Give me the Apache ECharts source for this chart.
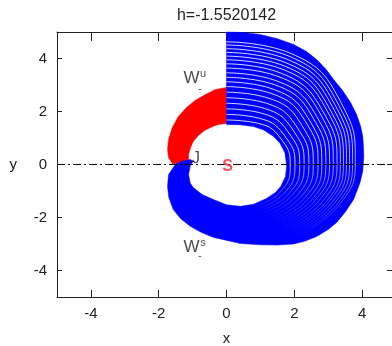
<!DOCTYPE html>
<html>
<head>
<meta charset="utf-8">
<style>
html,body{margin:0;padding:0;background:#fff;}
#chart{width:392px;height:346px;}
</style>
<script src="https://cdn.jsdelivr.net/npm/echarts@6/dist/echarts.min.js"></script>
</head>
<body>
<div id="chart"></div>
<script>
// ---- data ----
const titleText = 'h=-1.5520142';
const xTicks = [-4, -2, 0, 2, 4];
const yTicks = [-4, -2, 0, 2, 4];

// red band W^u_- : outer edge then inner edge
const redOuter = [[0,2.91],[-0.33,2.83],[-0.62,2.64],[-0.92,2.42],[-1.18,2.15],[-1.42,1.81],[-1.6,1.40],[-1.71,0.94],[-1.74,0.57],[-1.71,0.26],[-1.6,0.04],[-1.3,0.0]];
const redInner = [[-1.12,0.11],[-1.12,0.38],[-1.06,0.64],[-0.98,0.87],[-0.83,1.09],[-0.65,1.28],[-0.41,1.43],[-0.24,1.51],[0,1.55]];

// blue band W^s_- : outer edge clockwise, then inner edge back to the top
const blueOuter = [[0,5.0],[0.5,4.98],[0.98,4.91],[1.5,4.75],[1.98,4.53],[2.35,4.27],[2.66,3.96],[2.93,3.6],[3.16,3.21],[3.43,2.78],[3.66,2.34],[3.84,1.88],[3.96,1.43],[4.02,1.05],[4.04,0.68],[4.05,0.3],[4.02,-0.25],[3.94,-0.68],[3.75,-1.32],[3.5,-1.8],[3.25,-2.19],[3.0,-2.45],[2.66,-2.72],[2.3,-2.9],[1.98,-3.0],[1.5,-3.04],[1.0,-3.03],[0.41,-2.98],[-0.38,-2.75],[-0.75,-2.56],[-1.06,-2.34],[-1.35,-2.05],[-1.57,-1.70],[-1.7,-1.25],[-1.74,-0.83],[-1.71,-0.38],[-1.51,0],[-1.36,0.11],[-1.06,0.19]];
const blueInner = [[-0.98,0.11],[-1.06,0.0],[-1.12,-0.38],[-1.07,-0.7],[-0.98,-0.87],[-0.72,-1.13],[-0.37,-1.33],[0,-1.52],[0.41,-1.58],[0.8,-1.5],[1.18,-1.28],[1.45,-1.05],[1.6,-0.83],[1.74,-0.45],[1.77,-0.11],[1.75,0.2],[1.72,0.45],[1.58,0.8],[1.39,1.06],[1.1,1.3],[0.8,1.43],[0.4,1.5],[0,1.51]];

// visible gaps between the individual trajectories of the blue band
const blueGaps = [
  [[0,1.68],[0.91,1.56],[1.66,0.88],[1.88,-0.09],[1.56,-1.07],[0.83,-1.57]],
  [[0,1.89],[0.98,1.74],[1.78,0.97],[2.02,-0.08],[1.69,-1.10],[0.92,-1.65]],
  [[0,2.10],[1.05,1.93],[1.91,1.06],[2.16,-0.07],[1.82,-1.13],[1.01,-1.73]],
  [[0,2.31],[1.11,2.12],[2.04,1.15],[2.29,-0.05],[1.94,-1.15],[1.11,-1.81]],
  [[0,2.52],[1.18,2.31],[2.16,1.25],[2.43,-0.04],[2.07,-1.18],[1.20,-1.89]],
  [[0,2.73],[1.25,2.50],[2.29,1.34],[2.56,-0.03],[2.20,-1.21],[1.29,-1.97]],
  [[0,2.94],[1.32,2.68],[2.42,1.43],[2.70,-0.02],[2.33,-1.23],[1.39,-2.05]],
  [[0,3.12],[1.38,2.84],[2.52,1.51],[2.81,-0.01],[2.44,-1.26],[1.46,-2.12]],
  [[0,3.29],[1.44,3.00],[2.63,1.59],[2.93,0.0],[2.55,-1.28],[1.54,-2.19]],
  [[0,3.46],[1.49,3.15],[2.73,1.66],[3.04,0.01],[2.65,-1.30],[1.62,-2.26]],
  [[0,3.64],[1.55,3.31],[2.84,1.74],[3.15,0.02],[2.76,-1.32],[1.70,-2.32]],
  [[0,3.80],[1.60,3.45],[2.93,1.81],[3.26,0.03],[2.86,-1.35],[1.77,-2.38]],
  [[0,3.95],[1.66,3.59],[3.03,1.88],[3.36,0.04],[2.96,-1.37],[1.84,-2.45]],
  [[0,4.09],[1.70,3.72],[3.11,1.94],[3.45,0.05],[3.04,-1.38],[1.90,-2.50]],
  [[0,4.23],[1.75,3.84],[3.20,2.00],[3.54,0.06],[3.13,-1.40],[1.96,-2.55]],
  [[0,4.37],[1.79,3.97],[3.28,2.06],[3.63,0.06],[3.21,-1.42],[2.02,-2.61]],
  [[0,4.51],[1.84,4.09],[3.36,2.12],[3.72,0.07],[3.30,-1.44],[2.08,-2.66]],
  [[0,4.63],[1.88,4.20],[3.44,2.18],[3.80,0.08],[3.37,-1.45],[2.14,-2.71]]
];

const symmetryLine = [[-5,0],[5,0]];

// annotation texts and their anchor points (data coordinates)
const annotationText = ['W','u','-','W','s','-','S','J'];
const annotationAt = [[-1.03,3.26],[-0.69,3.40],[-0.79,2.86],[-1.03,-3.11],[-0.69,-2.96],[-0.79,-3.46],[0.03,-0.09],[-0.9,0.23]];

// ---- chart ----
const FONT = '"Liberation Sans", Arial, Helvetica, sans-serif';
const TXT = '#222';

function polygonSeries(points, color, z) {
  return {
    type: 'custom',
    coordinateSystem: 'cartesian2d',
    data: points,
    encode: {x: 0, y: 1},
    silent: true,
    z: z,
    renderItem: function (params, api) {
      if (params.dataIndex !== 0) return null;
      return {
        type: 'polygon',
        shape: {points: points.map(function (p) { return api.coord(p); })},
        style: {fill: color, stroke: color, lineWidth: 0.5}
      };
    }
  };
}

const gapColor = new echarts.graphic.LinearGradient(0, 0, 0, 1, [
  {offset: 0, color: 'rgba(255,255,255,0.95)'},
  {offset: 0.5, color: 'rgba(255,255,255,0.85)'},
  {offset: 0.78, color: 'rgba(255,255,255,0.4)'},
  {offset: 1, color: 'rgba(255,255,255,0)'}
]);

const series = [];
series.push(polygonSeries(redOuter.concat(redInner), '#ff0000', 1));
series.push(polygonSeries(blueOuter.concat(blueInner), '#0000ff', 2));
blueGaps.forEach(function (curve) {
  series.push({
    type: 'line', data: curve, smooth: 0.5, showSymbol: false, silent: true, z: 3,
    lineStyle: {width: 0.9, color: gapColor}
  });
});
series.push({
  type: 'line', data: symmetryLine, showSymbol: false, silent: true, z: 4,
  lineStyle: {width: 1, color: '#000', type: [8, 3, 2, 3]}
});

const annStyles = [
  {fontSize: 17, color: '#1a1a1a'},
  {fontSize: 11, color: '#1a1a1a'},
  {fontSize: 11, color: '#1a1a1a'},
  {fontSize: 17, color: '#1a1a1a'},
  {fontSize: 11, color: '#1a1a1a'},
  {fontSize: 11, color: '#1a1a1a'},
  {fontSize: 16, color: '#f0222a', fontWeight: 'bold'},
  {fontSize: 16, color: '#111a40'}
];
series.push({
  type: 'scatter', z: 6, silent: true, symbolSize: 1,
  itemStyle: {color: 'rgba(0,0,0,0)'},
  labelLayout: {hideOverlap: false},
  data: annotationAt.map(function (p, i) {
    return {
      value: p,
      label: Object.assign({show: true, position: 'inside', formatter: annotationText[i], fontFamily: FONT}, annStyles[i])
    };
  })
});

const axisLineStyle = {color: '#222', width: 1};
const option = {
  animation: false,
  backgroundColor: '#fff',
  grid: {left: 57, top: 32, width: 339, height: 265, containLabel: false, outerBoundsMode: 'none'},
  xAxis: [
    {
      type: 'value', min: -5, max: 5, position: 'bottom',
      axisLine: {show: true, onZero: false, lineStyle: axisLineStyle},
      axisTick: {show: true, inside: true, length: 7, customValues: xTicks, lineStyle: axisLineStyle},
      axisLabel: {show: true, customValues: xTicks, fontSize: 15, color: TXT, margin: 9, fontFamily: FONT},
      splitLine: {show: false},
      name: 'x', nameLocation: 'middle', nameGap: 34,
      nameTextStyle: {fontSize: 15, color: TXT, fontFamily: FONT}
    },
    {
      type: 'value', min: -5, max: 5, position: 'top',
      axisLine: {show: true, onZero: false, lineStyle: axisLineStyle},
      axisTick: {show: true, inside: true, length: 9, customValues: xTicks, lineStyle: axisLineStyle},
      axisLabel: {show: false},
      splitLine: {show: false},
      name: titleText, nameLocation: 'middle', nameGap: 8,
      nameTextStyle: {fontSize: 16, color: TXT, fontFamily: FONT}
    }
  ],
  yAxis: [
    {
      type: 'value', min: -5, max: 5, position: 'left',
      axisLine: {show: true, onZero: false, lineStyle: axisLineStyle},
      axisTick: {show: true, inside: true, length: 5, customValues: yTicks, lineStyle: axisLineStyle},
      axisLabel: {show: true, customValues: yTicks, fontSize: 15, color: TXT, margin: 10, fontFamily: FONT},
      splitLine: {show: false},
      name: 'y', nameLocation: 'middle', nameGap: 40, nameRotate: 0,
      nameTextStyle: {fontSize: 15, color: TXT, fontFamily: FONT}
    },
    {
      type: 'value', min: -5, max: 5, position: 'right',
      axisLine: {show: true, onZero: false, lineStyle: axisLineStyle},
      axisTick: {show: true, inside: true, length: 9, customValues: yTicks, lineStyle: axisLineStyle},
      axisLabel: {show: false},
      splitLine: {show: false}
    }
  ],
  series: series
};

const chart = echarts.init(document.getElementById('chart'), null, {renderer: 'canvas'});
chart.setOption(option);
</script>
</body>
</html>
